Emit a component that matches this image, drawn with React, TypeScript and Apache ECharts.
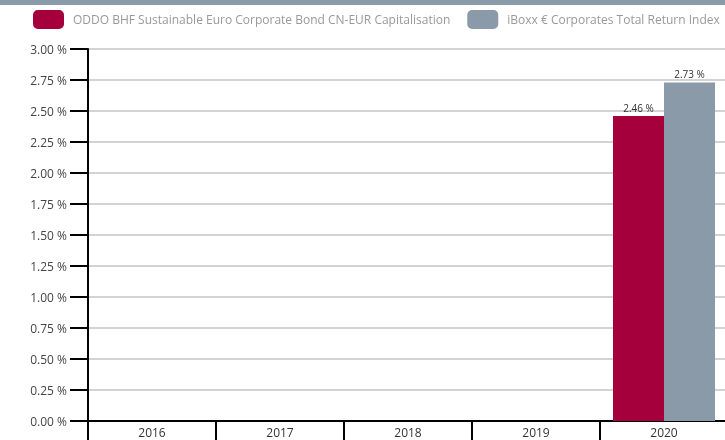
import React, { useEffect, useRef } from "react";
import * as echarts from "echarts";

const categories = ["2016", "2017", "2018", "2019", "2020"];
const fundName = "ODDO BHF Sustainable Euro Corporate Bond CN-EUR Capitalisation";
const indexName = "iBoxx € Corporates Total Return Index";
const fundValues: (number | null)[] = [null, null, null, null, 2.46];
const indexValues: (number | null)[] = [null, null, null, null, 2.73];
const FONT = "'Open Sans', sans-serif";

export default function App() {
  const ref = useRef<HTMLDivElement>(null);
  useEffect(() => {
    const chart = echarts.init(ref.current!, null, { renderer: "svg" });
    const labelFmt = (p: any) => p.value.toFixed(2) + " %";
    chart.setOption({
      animation: false,
      textStyle: { fontFamily: FONT },
      graphic: [
        { type: "rect", left: 0, top: 0, shape: { width: 740, height: 5 }, style: { fill: "#8a9aa8" } },
      ],
      legend: {
        left: 28,
        top: 5,
        itemWidth: 31,
        itemHeight: 19,
        itemGap: 17,
        icon: "roundRect",
        textStyle: { color: "#999", fontSize: 12, fontFamily: FONT, padding: [0, 0, 0, 4] },
        data: [fundName, indexName],
      },
      grid: { left: 88, right: 12, top: 49, bottom: 19 },
      xAxis: {
        type: "category",
        data: categories,
        axisLine: { lineStyle: { color: "#000", width: 2 } },
        axisTick: { show: true, length: 19, lineStyle: { color: "#000", width: 2 } },
        axisLabel: { color: "#333", fontSize: 12, margin: 5, fontFamily: FONT },
      },
      yAxis: {
        type: "value",
        min: 0,
        max: 3,
        interval: 0.25,
        axisLine: { show: true, lineStyle: { color: "#000", width: 2 } },
        axisTick: { show: true, length: 18, lineStyle: { color: "#000", width: 2 } },
        axisLabel: {
          color: "#444",
          fontSize: 12,
          margin: 21,
          fontFamily: FONT,
          formatter: (v: number) => v.toFixed(2) + " %",
        },
        splitLine: { lineStyle: { color: "#d3d3d3", width: 2 } },
      },
      series: [
        {
          name: fundName,
          type: "bar",
          data: fundValues,
          barWidth: 51,
          barGap: "0%",
          itemStyle: { color: "#a5003c" },
          label: { show: true, position: "top", distance: 3, fontSize: 10, color: "#333", formatter: labelFmt },
        },
        {
          name: indexName,
          type: "bar",
          data: indexValues,
          barWidth: 51,
          barGap: "0%",
          itemStyle: { color: "#8a9aa8" },
          label: { show: true, position: "top", distance: 3, fontSize: 10, color: "#333", formatter: labelFmt },
        },
      ],
    });
    return () => chart.dispose();
  }, []);
  return <div ref={ref} style={{ position: "fixed", left: 0, top: 0, width: 740, height: 440 }} />;
}
